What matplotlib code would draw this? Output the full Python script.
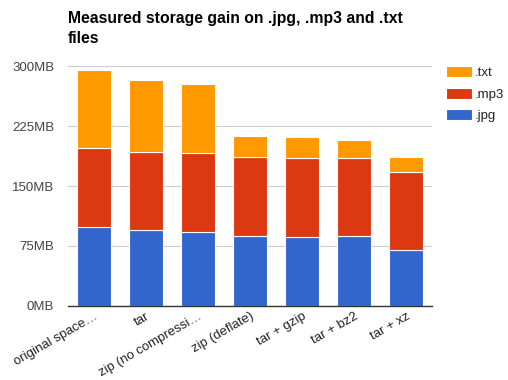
import matplotlib
matplotlib.use("Agg")
import matplotlib.pyplot as plt
import numpy as np

categories = ["original space\u2026", "tar", "zip (no compressi\u2026", "zip (deflate)",
              "tar + gzip", "tar + bz2", "tar + xz"]
jpg = [99, 94.5, 92, 87, 86, 87, 70]
mp3 = [98, 98.5, 99, 99, 99, 98.5, 98]
txt = [98, 89.5, 86.5, 26.5, 26, 21.5, 18]
yticks = [0, 75, 150, 225, 300]
ytick_labels = ["0MB", "75MB", "150MB", "225MB", "300MB"]

plt.rcParams['font.family'] = ['Liberation Sans', 'DejaVu Sans']

fig = plt.figure(figsize=(5.08, 3.8), dpi=100)
ax = fig.add_axes([68/508, 74/380, 364/508, 240/380])

x = np.arange(len(categories))
w = 0.64
c_jpg, c_mp3, c_txt = "#3366CC", "#DC3912", "#FF9900"
b1 = ax.bar(x, jpg, w, color=c_jpg, edgecolor="white", linewidth=0.8, label=".jpg", zorder=3)
b2 = ax.bar(x, mp3, w, bottom=jpg, color=c_mp3, edgecolor="white", linewidth=0.8, label=".mp3", zorder=3)
bot = np.array(jpg) + np.array(mp3)
b3 = ax.bar(x, txt, w, bottom=bot, color=c_txt, edgecolor="white", linewidth=0.8, label=".txt", zorder=3)

ax.set_xlim(-0.5, len(categories) - 0.5)
ax.set_ylim(0, 300)
ax.set_yticks(yticks)
ax.set_yticklabels(ytick_labels, fontsize=9.5, color="#444444")
ax.yaxis.grid(True, color="#cccccc", linewidth=0.8, zorder=0)
ax.tick_params(axis='y', length=0, pad=10)
ax.tick_params(axis='x', length=0, pad=3)
ax.set_xticks(x)
ax.set_xticklabels(categories, rotation=30, ha='right', rotation_mode='anchor',
                   fontsize=9.5, color="#222222")
for s in ["left", "right", "top"]:
    ax.spines[s].set_visible(False)
ax.spines["bottom"].set_color("#333333")
ax.spines["bottom"].set_linewidth(1)
ax.spines["bottom"].set_zorder(4)

fig.text(68/508, 1 - 11/380, "Measured storage gain on .jpg, .mp3 and .txt\nfiles",
         fontsize=11.3, fontweight='bold', va='top', ha='left', linespacing=1.45)

leg = fig.legend(handles=[b3, b2, b1], labels=[".txt", ".mp3", ".jpg"],
                 loc='upper left', bbox_to_anchor=(446/508, 1 - 66/380),
                 borderaxespad=0, borderpad=0,
                 frameon=False, fontsize=9.5, handlelength=1.95, handleheight=0.9,
                 labelspacing=0.65, handletextpad=0.25, labelcolor="#222222")

fig.savefig("out.png", dpi=100)
